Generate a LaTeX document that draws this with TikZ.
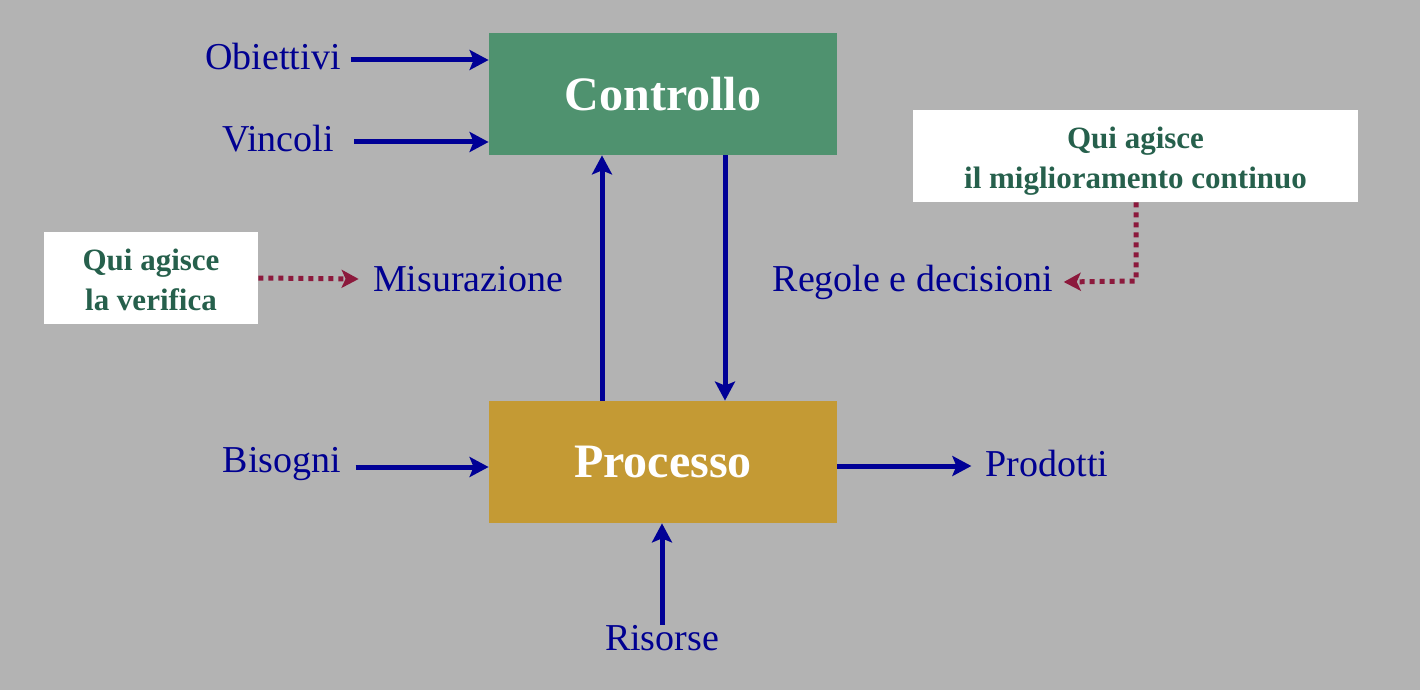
\documentclass[tikz,border=0pt]{standalone}
\usepackage{fontspec}
\setmainfont{Liberation Serif}
\usetikzlibrary{arrows.meta}
\definecolor{bg}{RGB}{179,179,179}
\definecolor{ctrlgreen}{RGB}{79,146,111}
\definecolor{procgold}{RGB}{196,154,52}
\definecolor{arrblue}{RGB}{0,0,150}
\definecolor{txtblue}{RGB}{0,0,145}
\definecolor{dotred}{RGB}{140,25,60}
\definecolor{notegreen}{RGB}{38,96,76}
\begin{document}
\begin{tikzpicture}[x=0.5pt,y=-0.5pt,
  lbl/.style={text=txtblue,font=\fontsize{19}{22}\selectfont,inner sep=5pt},
  bigbox/.style={minimum width=174pt,minimum height=61pt,text=white,font=\bfseries\fontsize{24}{28}\selectfont,inner sep=0pt},
  note/.style={fill=white,text=notegreen,font=\bfseries\fontsize{15.5}{20}\selectfont,align=center,inner sep=0pt},
  arr/.style={draw=arrblue,line width=2.5pt,-{Stealth[length=9.5pt,width=10pt,inset=2pt]}},
  dotarr/.style={draw=dotred,line width=2.5pt,dash pattern=on 2.5pt off 2.5pt,-{Stealth[length=8.5pt,width=9pt,inset=2pt]}}
]
\fill[bg] (0,0) rectangle (1420,690);
\useasboundingbox (0,0) rectangle (1420,690);

\node[bigbox,fill=ctrlgreen] (ctrl) at (663,94) {Controllo};
\node[bigbox,fill=procgold] (proc) at (663,462) {Processo};

\node[note,minimum width=107pt,minimum height=46pt] (nver) at (151,278) {\parbox{100pt}{\vspace*{2pt}\centering Qui agisce\\la verifica}};
\node[note,minimum width=222.5pt,minimum height=46pt] (nmig) at (1135.5,156) {\parbox{215pt}{\vspace*{5pt}\centering Qui agisce\\il miglioramento continuo}};

\node[lbl] (obj) at (273,57) {Obiettivi};
\node[lbl] (vin) at (278,139) {Vincoli};
\node[lbl] (mis) at (468,279) {Misurazione};
\node[lbl] (reg) at (913,282) {Regole e decisioni};
\node[lbl] (bis) at (282,464) {Bisogni};
\node[lbl] (prod) at (1047,463) {Prodotti};
\node[lbl] (ris) at (662,638) {Risorse};

\coordinate (bend) at (1136,281);

\draw[arr] ([yshift=-1.5pt]obj.east) -- ([yshift=-1.5pt]obj.east -| ctrl.west);
\draw[arr] ([xshift=5pt,yshift=-1.5pt]vin.east) -- ([yshift=-1.5pt]vin.east -| ctrl.west);
\draw[arr] ([xshift=2pt,yshift=-1.5pt]bis.east) -- ([yshift=-1.5pt]bis.east -| proc.west);
\draw[arr] ([yshift=-2pt]proc.east) -- ([yshift=-2pt,xshift=-2pt]proc.east -| prod.west);
\draw[arr] ([yshift=-5pt]ris.north) -- (ris.north |- proc.south);
\draw[arr] ([xshift=-30.5pt]proc.north) -- ([xshift=-30.5pt]ctrl.south);
\draw[arr] ([xshift=31pt]ctrl.south) -- ([xshift=31pt]proc.north);

\draw[dotarr] (nver.east) -- ([xshift=-2pt]mis.west);
\draw[dotarr] (nmig.south -| bend) -- (bend) -- (reg.east);
\end{tikzpicture}
\end{document}
